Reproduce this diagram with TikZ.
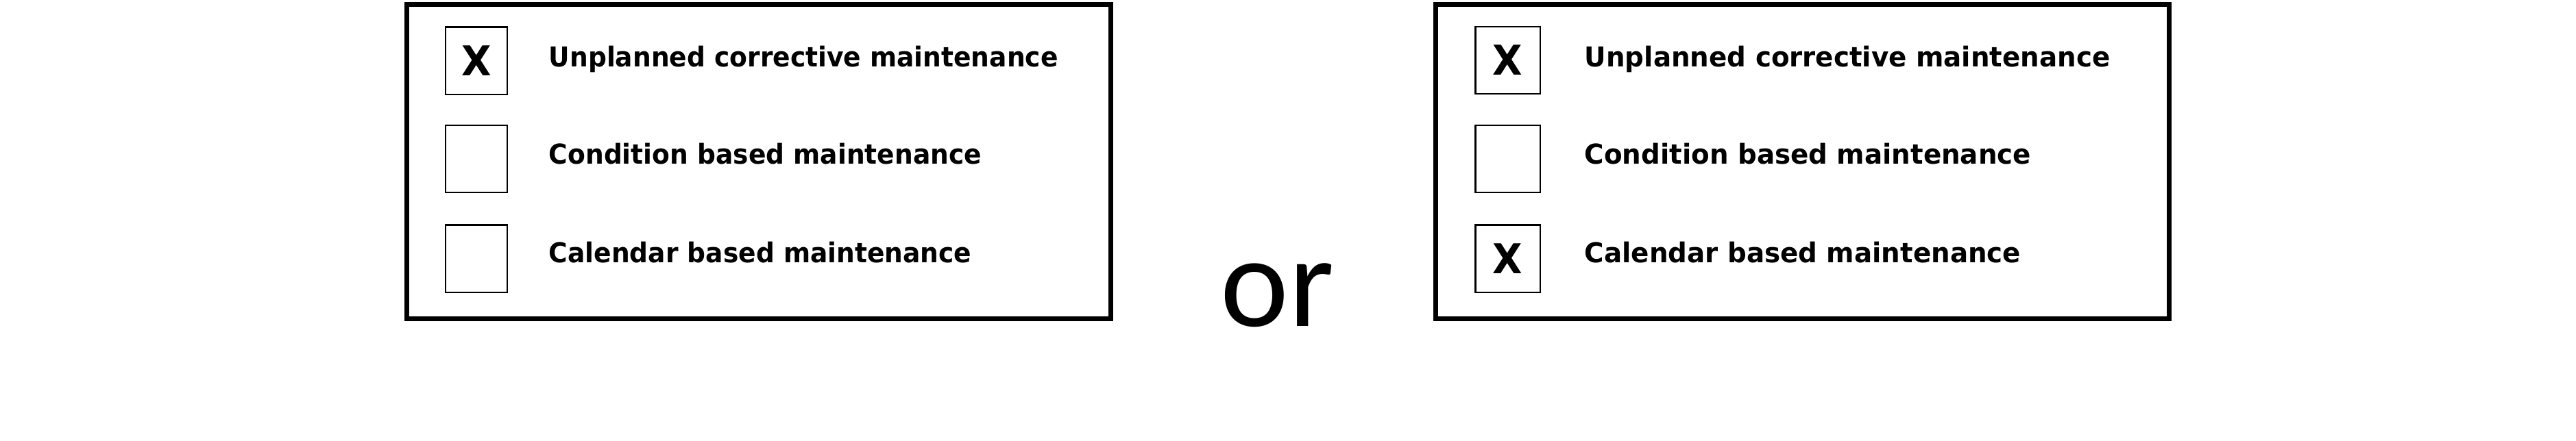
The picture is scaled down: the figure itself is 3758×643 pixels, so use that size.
\documentclass[tikz,border=0pt]{standalone}
\usepackage{fontspec}
\newfontfamily\labelfont{DejaVu Sans Bold}[FakeStretch=0.94]
\newfontfamily\labelfontwide{DejaVu Sans Bold}[FakeStretch=0.97]
\newfontfamily\orfont{Carlito}
\begin{document}
\begin{tikzpicture}[x=0.25pt,y=-0.25pt]
  \tikzstyle{frame}=[draw,line width=1.75pt]
  \tikzstyle{checkbox}=[draw,line width=0.6pt,minimum width=22.4pt,minimum height=24.6pt,inner sep=0pt,font=\fontsize{15}{15}\selectfont\labelfont]
  \tikzstyle{item}=[anchor=base west,inner sep=0pt,font=\fontsize{10}{12}\selectfont\labelfont]
  \useasboundingbox (0,0) rectangle (3758,643);
  % left choice
  \draw[frame] (593.5,6.5) rectangle (1620.5,465);
  \node[checkbox] (lunplanned) at (695,88.5) {X};
  \node[checkbox] (lcondition) at (695,232) {};
  \node[checkbox] (lcalendar) at (695,377.5) {};
  \node[item] (lunplannedtext) at (800,97) {Unplanned corrective maintenance};
  \node[item] (lconditiontext) at (800,239) {Condition based maintenance};
  \node[item] (lcalendartext) at (800,383) {Calendar based maintenance};
  % or
  \node[anchor=base west,inner sep=0pt,font=\fontsize{47.25}{50}\selectfont\orfont] (or) at (1780,476) {or};
  % right choice
  \draw[frame] (2094,6.5) rectangle (3164.5,465);
  \node[checkbox,minimum width=23.6pt] (runplanned) at (2199.5,88) {X};
  \node[checkbox,minimum width=23.6pt] (rcondition) at (2199.5,232) {};
  \node[checkbox,minimum width=23.6pt] (rcalendar) at (2199.5,377.5) {X};
  \node[item,font=\fontsize{10}{12}\selectfont\labelfontwide] (runplannedtext) at (2311,97) {Unplanned corrective maintenance};
  \node[item,font=\fontsize{10}{12}\selectfont\labelfontwide] (rconditiontext) at (2311,239) {Condition based maintenance};
  \node[item,font=\fontsize{10}{12}\selectfont\labelfontwide] (rcalendartext) at (2311,383) {Calendar based maintenance};
\end{tikzpicture}
\end{document}
